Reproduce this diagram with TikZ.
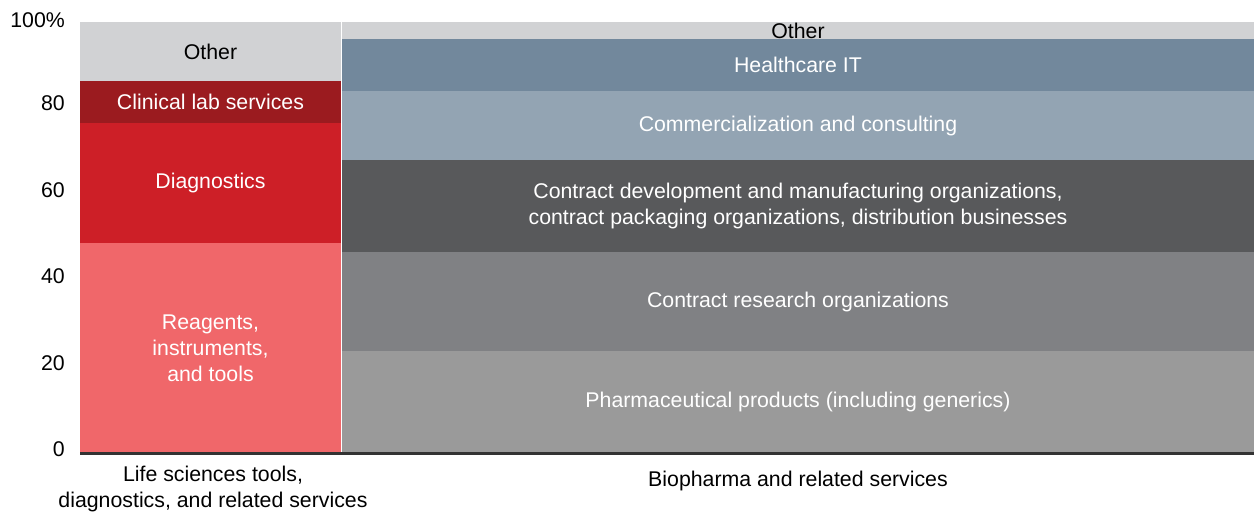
\documentclass[tikz,border=0pt]{standalone}
\usepackage{fontspec}
\setmainfont{Liberation Sans}
\usetikzlibrary{positioning}

\definecolor{othergray}{HTML}{D1D2D4}
\definecolor{clinred}{HTML}{9B1B1F}
\definecolor{diagred}{HTML}{CD1F27}
\definecolor{reagred}{HTML}{F0676A}
\definecolor{hitblue}{HTML}{72889C}
\definecolor{commblue}{HTML}{93A4B3}
\definecolor{cdmogray}{HTML}{58595B}
\definecolor{crogray}{HTML}{808184}
\definecolor{pharmagray}{HTML}{9A9A9A}
\definecolor{axisdark}{HTML}{333333}

\begin{document}
\begin{tikzpicture}[x=1pt, y=-1pt, node distance=0pt]
    \tikzset{font={\fontsize{21.3pt}{25.8pt}\selectfont}}
    \tikzset{seg/.style={inner sep=0pt, outer sep=0pt, text=white, align=center},
             lseg/.style={seg, minimum width=261pt},
             rseg/.style={seg, minimum width=912pt}}
    \useasboundingbox (0,0) rectangle (1254,512);
    % left bar
    \node [lseg, anchor=north west, fill=othergray, text=black, minimum height=59pt] (lother) at (80,22) {Other};
    \node [lseg, below=of lother, fill=clinred, minimum height=42pt] (clin) {Clinical lab services};
    \node [lseg, below=of clin, fill=diagred, minimum height=120pt] (diag) {Diagnostics};
    \node [lseg, below=of diag, fill=reagred, minimum height=210pt] (reag) {Reagents,\\instruments,\\and tools};
    % right bar
    \node [rseg, anchor=north west, fill=othergray, text=black, minimum height=17pt] (rother) at (342,22) {Other};
    \node [rseg, below=of rother, fill=hitblue, minimum height=52pt] (hit) {Healthcare IT};
    \node [rseg, below=of hit, fill=commblue, minimum height=69pt] (comm) {Commercialization and consulting};
    \node [rseg, below=of comm, fill=cdmogray, minimum height=92pt] (cdmo) {Contract development and manufacturing organizations,\\contract packaging organizations, distribution businesses};
    \node [rseg, below=of cdmo, fill=crogray, minimum height=99pt] (cro) {Contract research organizations};
    \node [rseg, below=of cro, fill=pharmagray, minimum height=102pt] (pharma) {Pharmaceutical products (including generics)};
    % axis
    \draw [axisdark, line width=3pt] (reag.south west) -- (pharma.south east);
    \node [anchor=east, inner sep=0pt] (t100) at (65,20) {100\%};
    \foreach \t/\yy in {80/103, 60/190, 40/276, 20/363, 0/449}
        \node [anchor=east, inner sep=0pt] (t\t) at (65,\yy) {\t};
    \node [align=center, inner sep=0pt] (lcat) at (213,489) {Life sciences tools,\\diagnostics, and related services};
    \node [inner sep=0pt] (rcat) at (798,481) {Biopharma and related services};
\end{tikzpicture}
\end{document}
